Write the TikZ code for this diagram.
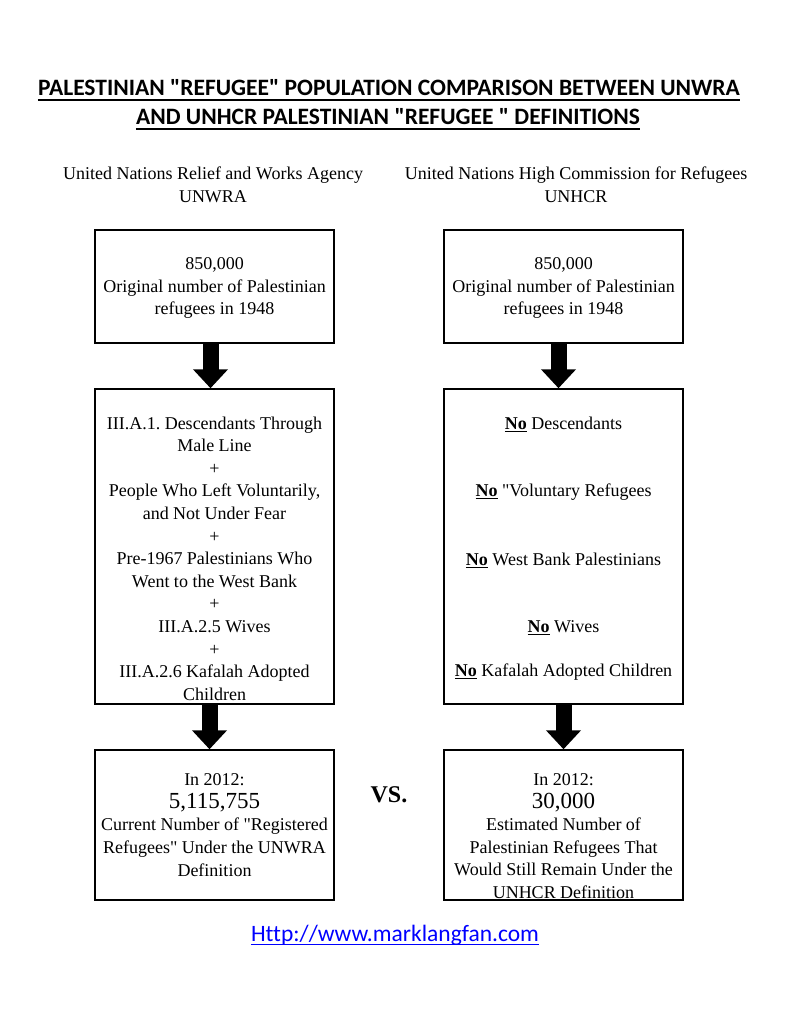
\documentclass[tikz,border=0pt]{standalone}
\usepackage{fontspec}
\setmainfont{Liberation Serif}[Ligatures=TeXOff]
\newfontfamily\calibri{Carlito}[Ligatures=NoCommon]
\usetikzlibrary{arrows.meta}
\definecolor{linkblue}{RGB}{0,0,255}
\frenchspacing
\begin{document}
\begin{tikzpicture}[x=1pt,y=-1pt,
    box/.style={draw,line width=1.5pt,minimum width=239pt,inner sep=0pt},
    txt/.style={align=center,inner sep=0pt,font=\fontsize{18}{22.6}\selectfont},
    big/.style={inner sep=0pt,font=\calibri\bfseries\fontsize{23.5}{27}\selectfont},
    fatarrow/.style={line width=16pt,-{Triangle[width=34pt,length=19pt]}}]
    \useasboundingbox (0,0) rectangle (792,1024);

    % Title
    \node[big] (t1) at (389,88) {PALESTINIAN "REFUGEE" POPULATION COMPARISON BETWEEN UNWRA};
    \node[big] (t2) at (388,117) {AND UNHCR PALESTINIAN "REFUGEE " DEFINITIONS};
    \draw[line width=2pt] ([yshift=-4pt]t1.base west) -- ([yshift=-4pt]t1.base east);
    \draw[line width=2pt] ([yshift=-4pt]t2.base west) -- ([yshift=-4pt]t2.base east);

    % Column heads
    \node[txt] (headL) at (213,184.5) {United Nations Relief and Works Agency\\UNWRA};
    \node[txt] (headR) at (576,184.5) {United Nations High Commission for Refugees\\UNHCR};

    % Boxes
    \node[box,minimum height=113pt] (origL) at (214.5,286.5) {};
    \node[box,minimum height=113pt] (origR) at (563.5,286.5) {};
    \node[box,minimum height=315pt] (defL) at (214.5,546.5) {};
    \node[box,minimum height=315pt] (defR) at (563.5,546.5) {};
    \node[box,minimum height=150pt] (nowL) at (214.5,825) {};
    \node[box,minimum height=150pt] (nowR) at (563.5,825) {};

    % Original refugees
    \node[txt] (origLtxt) at (214.5,288) {850,000\\Original number of Palestinian\\refugees in 1948};
    \node[txt] (origRtxt) at (563.5,288) {850,000\\Original number of Palestinian\\refugees in 1948};

    % UNWRA definition
    \node[txt] (defLtxt) at (214.5,558.5) {III.A.1. Descendants Through\\Male Line\\+\\People Who Left Voluntarily,\\and Not Under Fear\\+\\Pre-1967 Palestinians Who\\Went to the West Bank\\+\\III.A.2.5 Wives\\+\\III.A.2.6 Kafalah Adopted\\Children};

    % UNHCR definition
    \node[txt] (noA) at (563.5,424) {\underline{\textbf{No}} Descendants};
    \node[txt] (noB) at (563.5,492) {\underline{\textbf{No}} "Voluntary Refugees};
    \node[txt] (noC) at (563.5,560) {\underline{\textbf{No}} West Bank Palestinians};
    \node[txt] (noD) at (563.5,628) {\underline{\textbf{No}} Wives};
    \node[txt] (noE) at (563.5,672) {\underline{\textbf{No}} Kafalah Adopted Children};

    % Results
    \node[txt] (nowLtxt) at (214.5,825) {In 2012:\\{\fontsize{23}{23}\selectfont 5,115,755}\\Current Number of "Registered\\Refugees" Under the UNWRA\\Definition};
    \node[txt] (nowRtxt) at (563.5,836) {In 2012:\\{\fontsize{23}{23}\selectfont 30,000}\\Estimated Number of\\Palestinian Refugees That\\Would Still Remain Under the\\UNHCR Definition};
    \node[inner sep=0pt,font=\bfseries\fontsize{24}{24}\selectfont] (vs) at (389,795) {VS.};

    % Arrows
    \draw[fatarrow] ([xshift=-4pt]origL.south) -- ([xshift=-4pt]defL.north);
    \draw[fatarrow] ([xshift=-5pt]origR.south) -- ([xshift=-5pt]defR.north);
    \draw[fatarrow] ([xshift=-5pt]defL.south) -- ([xshift=-5pt]nowL.north);
    \draw[fatarrow] (defR.south) -- (nowR.north);

    % Link
    \node[inner sep=0pt,text=linkblue,font=\calibri\fontsize{23.5}{27}\selectfont] (url) at (395,935) {Http://www.marklangfan.com};
    \draw[linkblue,line width=1.2pt] ([yshift=-3.5pt]url.base west) -- ([yshift=-3.5pt]url.base east);
\end{tikzpicture}
\end{document}
